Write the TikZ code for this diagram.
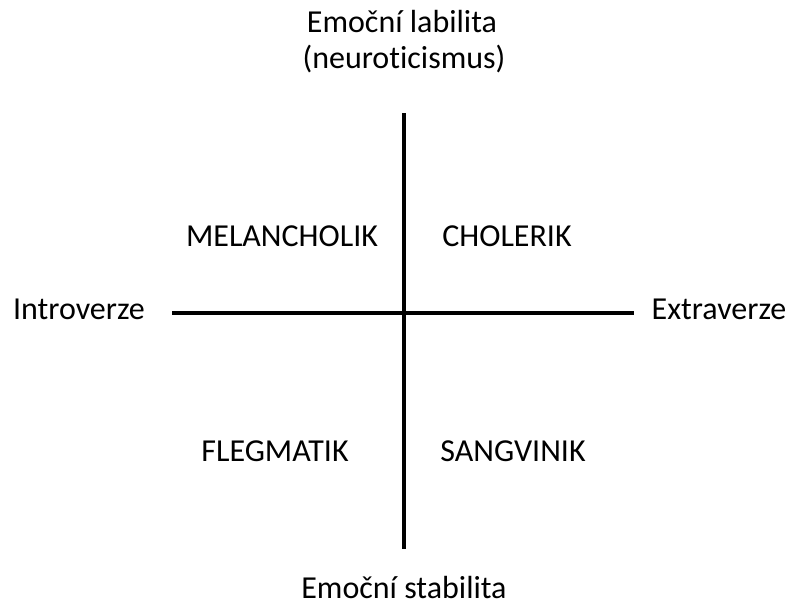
\documentclass[tikz,border=0pt]{standalone}
\usepackage{fontspec}
\setmainfont{Carlito}[Ligatures={NoCommon}]
\begin{document}
\begin{tikzpicture}[x=1pt,y=-1pt,
  lbl/.style={anchor=base,inner sep=0pt,font=\fontsize{32}{36}\selectfont},
  axis/.style={line width=3.6pt}]
\useasboundingbox (0,0) rectangle (790,610);
\coordinate (top) at (404,113);
\coordinate (bot) at (404,549);
\coordinate (left) at (172,313);
\coordinate (right) at (634,313);
\draw[axis] (top) -- (bot);
\draw[axis] (left) -- (right);
\node[lbl] (t1) at (402,33) {Emoční labilita};
\node[lbl] (t2) at (404,69) {(neuroticismus)};
\node[lbl] (b1) at (404,598) {Emoční stabilita};
\node[lbl] (l1) at (79,319) {Introverze};
\node[lbl] (r1) at (719,319) {Extraverze};
\node[lbl] (q1) at (282,246) {MELANCHOLIK};
\node[lbl] (q2) at (507,246) {CHOLERIK};
\node[lbl] (q3) at (275,461) {FLEGMATIK};
\node[lbl] (q4) at (513,461) {SANGVINIK};
\end{tikzpicture}
\end{document}
